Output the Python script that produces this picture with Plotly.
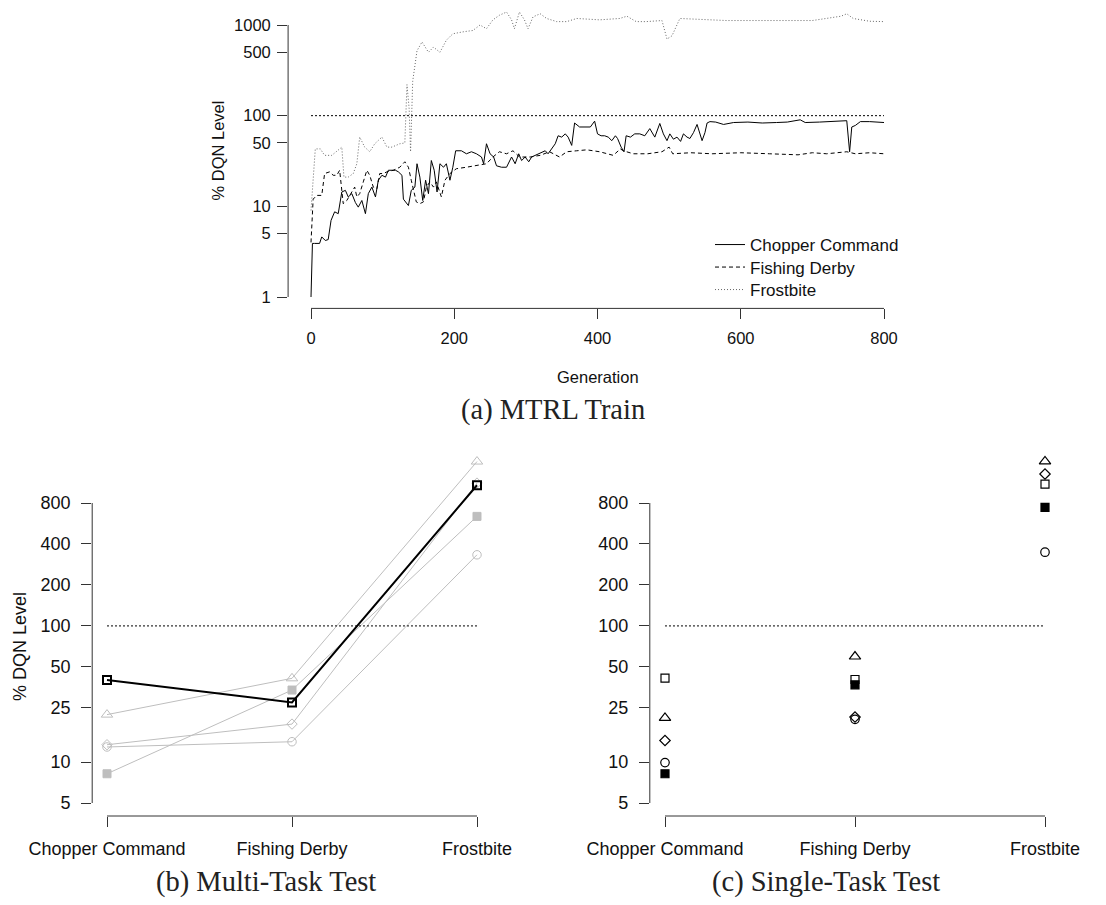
import math
import plotly.graph_objects as go

W, H = 1106, 905
OFF = 8  # page body margin in the browser: screen px = figure px + OFF

# ---------------- data: (a) MTRL Train ----------------
gen_chopper = [0, 2, 5, 12, 15, 20, 24, 26, 28, 33, 38, 43, 48, 52, 57, 62, 66, 71, 76, 80,
               85, 90, 94, 99, 104, 108, 113, 118, 122, 127, 129, 132, 136, 140, 145, 148, 152,
               156, 160, 164, 168, 172, 176, 180, 185, 189, 194, 198, 202, 210, 217, 224, 231,
               238, 241, 245, 250, 255, 259, 266, 273, 280, 285, 290, 294, 299, 304, 308, 313,
               318, 322, 327, 331, 336, 341, 345, 350, 355, 359, 364, 368, 375, 383, 390, 396,
               400, 405, 410, 415, 420, 425, 428, 433, 437, 440, 446, 452, 459, 466, 473, 480,
               487, 492, 497, 501, 506, 511, 516, 520, 525, 529, 534, 539, 543, 546, 550, 553,
               557, 565, 576, 590, 610, 630, 650, 665, 683, 690, 710, 730, 745, 748, 752, 755,
               760, 767, 780, 790, 800]
chopper = [1, 3.9, 3.9, 3.9, 4.6, 4.2, 4.3, 5.9, 7, 8.7, 8.3, 14.4, 15, 12.7, 13.8, 11, 9.8,
           11.6, 8.3, 13.8, 16.3, 12.7, 19.4, 22, 21, 25, 25, 25, 24, 22, 12, 11.2, 10.2, 15,
           16.3, 29.5, 21, 11.6, 19.4, 13.8, 32, 25, 14.4, 29.5, 27, 29.5, 19.4, 27, 41, 41, 38,
           40, 38, 35, 29.5, 49, 38, 35, 28, 27, 27, 35, 29.5, 38, 32, 35, 31, 35, 36.5, 38, 40,
           41, 38, 43, 49, 60, 58, 63, 58, 47, 83, 75, 75, 75, 87, 63, 60, 60, 58, 53, 60, 56,
           45, 40, 60, 58, 63, 63, 60, 72, 58, 82, 63, 53, 63, 55, 58, 52, 63, 58, 56, 65, 80,
           62, 53, 65, 83, 86, 85, 80, 84, 85, 83, 84, 85, 90, 84, 85, 86, 88, 88, 40, 75, 78,
           86, 86, 85, 84]

gen_fishing = [0, 3, 8, 15, 19, 26, 31, 36, 40, 45, 50, 57, 61, 64, 68, 73, 78, 82, 87, 92, 96,
               101, 106, 115, 124, 131, 136, 140, 147, 152, 157, 161, 166, 171, 175, 182, 187,
               194, 203, 217, 231, 245, 254, 263, 273, 282, 291, 306, 320, 333, 347, 357, 371,
               385, 403, 422, 432, 436, 450, 470, 490, 500, 505, 530, 560, 600, 640, 680, 700,
               720, 748, 760, 780, 800]
fishing = [4, 12, 13.2, 13.2, 23, 24, 22, 22, 25, 10.7, 11.6, 14.4, 16.3, 12.7, 13.8, 18.6, 25,
           22, 16.3, 15.6, 23, 23, 24, 25, 27, 31, 27, 19.4, 11.2, 10.7, 11.2, 16.3, 18.6, 16.3,
           18.6, 12.7, 19.4, 23, 26, 27, 28, 29.5, 35, 40, 38, 41, 35, 35, 36.5, 40, 35, 40, 41,
           42, 40, 36.5, 43, 41, 38, 38, 40, 45, 38, 39, 38, 39, 38, 37, 39, 38, 40, 38, 39, 38]

gen_frost = [0, 6, 13, 19, 29, 36, 43, 46, 52, 59, 64, 68, 75, 82, 89, 99, 106, 113, 124, 131,
             134, 137, 139, 142, 148, 155, 160, 164, 171, 180, 189, 198, 212, 226, 236, 245, 254,
             263, 273, 280, 284, 291, 298, 303, 310, 320, 329, 343, 357, 371, 403, 431, 441, 454,
             468, 490, 497, 504, 515, 540, 580, 620, 660, 700, 740, 748, 757, 780, 800]
frost = [9, 43, 43, 36.5, 36.5, 41, 45, 21, 21, 23, 29.5, 58, 45, 40, 49, 58, 45, 45, 49, 50,
         220, 120, 40, 240, 520, 650, 560, 500, 570, 500, 680, 800, 840, 870, 1000, 910, 1140,
         1280, 1390, 1140, 910, 1390, 1140, 910, 1230, 1330, 1180, 1090, 1090, 1180, 1140, 1180,
         1250, 1090, 1090, 1120, 700, 760, 1180, 1150, 1120, 1120, 1110, 1120, 1250, 1330, 1180,
         1100, 1090]

gen_ticks = [0, 200, 400, 600, 800]
top_yticks = [1, 5, 10, 50, 100, 500, 1000]
DQN_LEVEL = 100

# ---------------- data: (b) Multi-Task Test / (c) Single-Task Test ----------------
games = ["Chopper Command", "Fishing Derby", "Frostbite"]
game_pos = [1, 2, 3]
bottom_yticks = [5, 10, 25, 50, 100, 200, 400, 800]

multi_square_open = [40, 27.4, 1080]
multi_triangle = [22.3, 41.2, 1613]
multi_square_filled = [8.2, 33.8, 638]
multi_diamond = [13.4, 19.0, 1120]
multi_circle = [12.9, 14.1, 333]

single_square_open = [41.3, 40.4, 1102]
single_triangle = [21.1, 59.6, 1617]
single_square_filled = [8.2, 36.9, 743]
single_diamond = [14.4, 21.4, 1306]
single_circle = [9.9, 20.6, 348]

# ---------------- geometry helpers (screen pixel layout) ----------------
def range_from_px(v0, p0, v1, p1, pa, pb):
    """axis range whose ends fall on screen pixels pa, pb, given v0->p0 and v1->p1"""
    s = (p1 - p0) / (v1 - v0)
    return [v0 + (pa - p0) / s, v0 + (pb - p0) / s]


def px_x(px):
    return (px - OFF) / W


def px_y(py):
    return 1 - (py - OFF) / H


SANS = "Liberation Sans, Arial, sans-serif"
SERIF = "Liberation Serif, Times New Roman, serif"
AX = "#333333"
GRAY = "#BEBEBE"

# top panel: screen region x 288..907, y 8..308.4
top_px_x = (288.1, 906.9)
top_px_y = (308.4, 8.5)
top_xr = range_from_px(0, 311, 800, 884, *top_px_x)
top_yr = range_from_px(0, 297, 3, 25, *top_px_y)

# bottom panels
bot_px_y = (816.0, 448.0)
bot_yr = range_from_px(math.log10(5), 803, math.log10(800), 503, *bot_px_y)
bl_px_x = (92.2, 491.8)
br_px_x = (649.8, 1060.2)
bl_xr = range_from_px(1, 107, 3, 477, *bl_px_x)
br_xr = range_from_px(1, 665, 3, 1045, *br_px_x)

fig = go.Figure()

# ---- (a) ----
fig.add_trace(go.Scatter(x=gen_chopper, y=chopper, mode="lines", name="Chopper Command",
                         legend="legend", line=dict(color="#000000", width=1), xaxis="x", yaxis="y"))
fig.add_trace(go.Scatter(x=gen_fishing, y=fishing, mode="lines", name="Fishing Derby",
                         legend="legend2", line=dict(color="#000000", width=1, dash="4px,3px"),
                         xaxis="x", yaxis="y"))
fig.add_trace(go.Scatter(x=gen_frost, y=frost, mode="lines", name="Frostbite",
                         legend="legend3", line=dict(color="#666666", width=1, dash="1px,2px"),
                         xaxis="x", yaxis="y"))
fig.add_trace(go.Scatter(x=[gen_ticks[0], gen_ticks[-1]], y=[DQN_LEVEL, DQN_LEVEL], mode="lines",
                         showlegend=False, line=dict(color="#000000", width=1, dash="2px,2px"),
                         xaxis="x", yaxis="y"))

# ---- (b) ----
multi_gray = [
    (multi_triangle, "triangle-up-open", 10),
    (multi_square_filled, "square", 8),
    (multi_diamond, "diamond-open", 8),
    (multi_circle, "circle-open", 8.5),
]
for vals, sym, sz in multi_gray:
    fig.add_trace(go.Scatter(x=game_pos, y=vals, mode="lines+markers", showlegend=False,
                             line=dict(color=GRAY, width=1),
                             marker=dict(symbol=sym, size=sz, color=GRAY, line=dict(color=GRAY, width=1)),
                             xaxis="x2", yaxis="y2"))
fig.add_trace(go.Scatter(x=game_pos, y=multi_square_open, mode="lines+markers", showlegend=False,
                         line=dict(color="#000000", width=2),
                         marker=dict(symbol="square-open", size=8, color="#000000",
                                     line=dict(color="#000000", width=2)),
                         xaxis="x2", yaxis="y2"))
fig.add_trace(go.Scatter(x=[game_pos[0], game_pos[-1]], y=[DQN_LEVEL, DQN_LEVEL], mode="lines",
                         showlegend=False, line=dict(color="#000000", width=1, dash="2px,2px"),
                         xaxis="x2", yaxis="y2"))

# ---- (c) ----
single_sets = [
    (single_square_open, "square-open", 8),
    (single_triangle, "triangle-up-open", 10),
    (single_square_filled, "square", 8),
    (single_diamond, "diamond-open", 8),
    (single_circle, "circle-open", 8.5),
]
for vals, sym, sz in single_sets:
    fig.add_trace(go.Scatter(x=game_pos, y=vals, mode="markers", showlegend=False,
                             marker=dict(symbol=sym, size=sz, color="#000000",
                                         line=dict(color="#000000", width=1.2)),
                             xaxis="x3", yaxis="y3"))
fig.add_trace(go.Scatter(x=[game_pos[0], game_pos[-1]], y=[DQN_LEVEL, DQN_LEVEL], mode="lines",
                         showlegend=False, line=dict(color="#000000", width=1, dash="2px,2px"),
                         xaxis="x3", yaxis="y3"))

# ---------------- axes ----------------
def xax(pxs, rng, vals, text, size, standoff, anchor):
    return dict(domain=[px_x(pxs[0]), px_x(pxs[1])], range=rng, anchor=anchor, tickmode="array",
                tickvals=vals, ticktext=text, ticks="outside", ticklen=10, tickwidth=1, tickcolor=AX,
                showline=False, showgrid=False, zeroline=False, automargin=False,
                tickfont=dict(family=SANS, size=size, color="#111111"),
                ticklabelstandoff=standoff)


def yax(pxs, rng, vals, size, standoff, anchor):
    d = sorted([min(1.0, max(0.0, px_y(pxs[0]))), min(1.0, max(0.0, px_y(pxs[1])))])
    return dict(domain=d, range=rng, type="log", anchor=anchor, tickmode="array",
                tickvals=vals, ticktext=[str(v) for v in vals], ticks="outside", ticklen=10,
                tickwidth=1, tickcolor=AX, showline=False, showgrid=False, zeroline=False,
                automargin=False,
                tickfont=dict(family=SANS, size=size, color="#111111"),
                ticklabelstandoff=standoff)


fig.update_layout(
    xaxis=xax(top_px_x, top_xr, gen_ticks, [str(v) for v in gen_ticks], 16.5, 5, "y"),
    yaxis=yax(top_px_y, top_yr, top_yticks, 16.5, 3, "x"),
    xaxis2=xax(bl_px_x, bl_xr, game_pos, games, 18, 6, "y2"),
    yaxis2=yax(bot_px_y, bot_yr, bottom_yticks, 18, 7, "x2"),
    xaxis3=xax(br_px_x, br_xr, game_pos, games, 18, 6, "y3"),
    yaxis3=yax(bot_px_y, bot_yr, bottom_yticks, 18, 7, "x3"),
)

# ---------------- axis spines (R style, spanning tick range only) ----------------
def yfrac(v, rng):
    return (math.log10(v) - rng[0]) / (rng[1] - rng[0])


def xfrac(v, rng):
    return (v - rng[0]) / (rng[1] - rng[0])


shapes = []
spine = dict(type="line", line=dict(color=AX, width=1), layer="above")
for xn, yn, xr, yr, xt, yt in [
    ("x", "y", top_xr, top_yr, gen_ticks, top_yticks),
    ("x2", "y2", bl_xr, bot_yr, game_pos, bottom_yticks),
    ("x3", "y3", br_xr, bot_yr, game_pos, bottom_yticks),
]:
    shapes.append(dict(spine, xref=xn + " domain", yref=yn + " domain",
                       x0=xfrac(xt[0], xr), x1=xfrac(xt[-1], xr), y0=0, y1=0))
    shapes.append(dict(spine, xref=xn + " domain", yref=yn + " domain",
                       x0=0, x1=0, y0=yfrac(yt[0], yr), y1=yfrac(yt[-1], yr)))

annotations = [
    dict(text="% DQN Level", x=px_x(217.5), y=px_y(151), textangle=-90,
         font=dict(family=SANS, size=16.5, color="#111111")),
    dict(text="Generation", x=px_x(598), y=px_y(377), font=dict(family=SANS, size=16.5, color="#111111")),
    dict(text="(a) MTRL Train", x=px_x(553), y=px_y(410), font=dict(family=SERIF, size=28.5, color="#222222")),
    dict(text="% DQN Level", x=px_x(20), y=px_y(647), textangle=-90,
         font=dict(family=SANS, size=18, color="#111111")),
    dict(text="(b) Multi-Task Test", x=px_x(266), y=px_y(882), font=dict(family=SERIF, size=28.5, color="#222222")),
    dict(text="(c) Single-Task Test", x=px_x(826), y=px_y(882), font=dict(family=SERIF, size=28.5, color="#222222")),
]
for a in annotations:
    a.update(xref="paper", yref="paper", xanchor="center", yanchor="middle", showarrow=False)

legend_style = dict(xanchor="left", yanchor="middle", bgcolor="rgba(0,0,0,0)", borderwidth=0,
                    font=dict(family=SANS, size=17, color="#111111"), itemwidth=30)
leg_x = px_x(710)
fig.update_layout(
    width=W, height=H, autosize=False,
    margin=dict(l=0, r=0, t=0, b=0, autoexpand=False),
    paper_bgcolor="white", plot_bgcolor="white",
    shapes=shapes, annotations=annotations,
    showlegend=True,
    legend=dict(legend_style, x=leg_x, y=px_y(245)),
    legend2=dict(legend_style, x=leg_x, y=px_y(267.5)),
    legend3=dict(legend_style, x=leg_x, y=px_y(290)),
)

fig.write_html("out.html")
